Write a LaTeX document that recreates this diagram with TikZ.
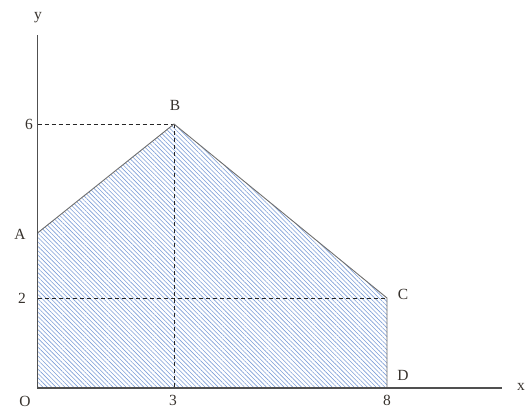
\documentclass[tikz,border=0pt]{standalone}
\usepackage{fontspec}
\setmainfont{Liberation Serif}
\usetikzlibrary{patterns.meta}
\definecolor{axisgray}{RGB}{80,80,80}
\definecolor{edgegray}{RGB}{110,110,110}
\definecolor{hatchblue}{RGB}{125,158,215}
\definecolor{labelcol}{RGB}{55,50,45}
\begin{document}
\begin{tikzpicture}[x=1pt,y=-1pt,
  axis/.style={draw=axisgray,line width=1.1pt},
  edge/.style={draw=edgegray,line width=0.9pt},
  guide/.style={draw=black!85,line width=0.8pt,dash pattern=on 4pt off 3pt},
  lbl/.style={text=labelcol,font=\fontsize{15.5}{17}\selectfont,inner sep=0pt}]
\useasboundingbox (0,0) rectangle (528,410);
\coordinate (O) at (37.5,388);
\coordinate (A) at (37.5,233);
\coordinate (B) at (174,124);
\coordinate (C) at (387,298);
\coordinate (D) at (387,388);
\coordinate (Ytop) at (37.5,35);
\coordinate (Xend) at (502,388);
\coordinate (Y6) at (37.5,124);
\coordinate (Y2) at (37.5,298);
\coordinate (X3) at (174,388);
% shaded region
\fill[pattern={Lines[angle=-45,distance=3.1pt,line width=0.6pt]},pattern color=hatchblue]
  (O) -- (A) -- (B) -- (C) -- (D) -- cycle;
% guides
\draw[guide] (Y6) -- (B);
\draw[guide] (B) -- (X3);
\draw[guide] (Y2) -- (C);
% edges
\draw[edge] (A) -- (B) -- (C) -- (D);
% axes
\draw[axis] (Ytop) -- (O) -- (Xend);
% labels
\node[lbl] (ly) at (38,18) {y};
\node[lbl] (lx) at (521,387) {x};
\node[lbl] (lO) at (25,401) {O};
\node[lbl] (l6) at (29,124) {6};
\node[lbl] (l2) at (22,298) {2};
\node[lbl] (lA) at (20,234) {A};
\node[lbl] (lB) at (175,105) {B};
\node[lbl] (lC) at (403,294) {C};
\node[lbl] (lD) at (403,375) {D};
\node[lbl] (l3) at (173,400.5) {3};
\node[lbl] (l8) at (387,400.5) {8};
\end{tikzpicture}
\end{document}
